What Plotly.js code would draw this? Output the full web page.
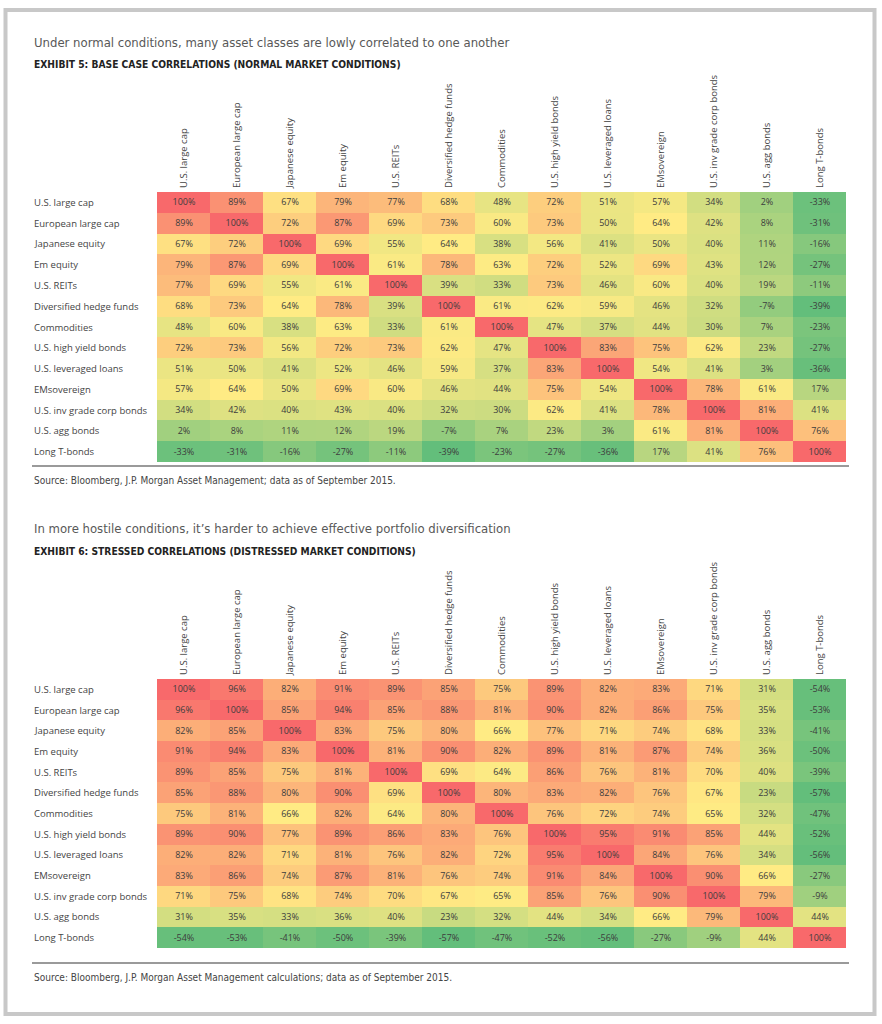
<!DOCTYPE html>
<html>
<head>
<meta charset="utf-8">
<script src="https://cdn.plot.ly/plotly-3.0.1.min.js"></script>
<style>
html,body{margin:0;padding:0;background:#fff;}
#chart{width:882px;height:1024px;}
</style>
</head>
<body>
<div id="chart"></div>
<script>
// ---------- DATA ----------
const assetLabels = ["U.S. large cap","European large cap","Japanese equity","Em equity","U.S. REITs","Diversified hedge funds","Commodities","U.S. high yield bonds","U.S. leveraged loans","EMsovereign","U.S. inv grade corp bonds","U.S. agg bonds","Long T-bonds"];

const normalCorr = [
  [100,89,67,79,77,68,48,72,51,57,34,2,-33],
  [89,100,72,87,69,73,60,73,50,64,42,8,-31],
  [67,72,100,69,55,64,38,56,41,50,40,11,-16],
  [79,87,69,100,61,78,63,72,52,69,43,12,-27],
  [77,69,55,61,100,39,33,73,46,60,40,19,-11],
  [68,73,64,78,39,100,61,62,59,46,32,-7,-39],
  [48,60,38,63,33,61,100,47,37,44,30,7,-23],
  [72,73,56,72,73,62,47,100,83,75,62,23,-27],
  [51,50,41,52,46,59,37,83,100,54,41,3,-36],
  [57,64,50,69,60,46,44,75,54,100,78,61,17],
  [34,42,40,43,40,32,30,62,41,78,100,81,41],
  [2,8,11,12,19,-7,7,23,3,61,81,100,76],
  [-33,-31,-16,-27,-11,-39,-23,-27,-36,17,41,76,100]
];

const stressedCorr = [
  [100,96,82,91,89,85,75,89,82,83,71,31,-54],
  [96,100,85,94,85,88,81,90,82,86,75,35,-53],
  [82,85,100,83,75,80,66,77,71,74,68,33,-41],
  [91,94,83,100,81,90,82,89,81,87,74,36,-50],
  [89,85,75,81,100,69,64,86,76,81,70,40,-39],
  [85,88,80,90,69,100,80,83,82,76,67,23,-57],
  [75,81,66,82,64,80,100,76,72,74,65,32,-47],
  [89,90,77,89,86,83,76,100,95,91,85,44,-52],
  [82,82,71,81,76,82,72,95,100,84,76,34,-56],
  [83,86,74,87,81,76,74,91,84,100,90,66,-27],
  [71,75,68,74,70,67,65,85,76,90,100,79,-9],
  [31,35,33,36,40,23,32,44,34,66,79,100,44],
  [-54,-53,-41,-50,-39,-57,-47,-52,-56,-27,-9,44,100]
];

const title1 = "Under normal conditions, many asset classes are lowly correlated to one another";
const exhibit1 = "EXHIBIT 5: BASE CASE CORRELATIONS (NORMAL MARKET CONDITIONS)";
const source1 = "Source: Bloomberg, J.P. Morgan Asset Management; data as of September 2015.";
const title2 = "In more hostile conditions, it\u2019s harder to achieve effective portfolio diversification";
const exhibit2 = "EXHIBIT 6: STRESSED CORRELATIONS (DISTRESSED MARKET CONDITIONS)";
const source2 = "Source: Bloomberg, J.P. Morgan Asset Management calculations; data as of September 2015.";

// ---------- STYLE ----------
const W = 882, H = 1024;
const px = v => v / W;
const py = v => 1 - v / H;
const NARROW = "Liberation Sans Narrow, DejaVu Sans Condensed, Open Sans, sans-serif";
const SANS = "Open Sans, Liberation Sans, sans-serif";
const GREEN = "#63BE7B", YELLOW = "#FFEB84", RED = "#F8696B";

function scaleFor(z, midVal) {
  let mn = Infinity;
  z.forEach(r => r.forEach(v => { if (v < mn) mn = v; }));
  const mx = 100;
  const t = (midVal - mn) / (mx - mn);
  return {zmin: mn, zmax: mx, colorscale: [[0, GREEN], [t, YELLOW], [1, RED]]};
}

function heat(z, xa, ya, midVal) {
  const s = scaleFor(z, midVal);
  return {
    type: 'heatmap', z: z, x: assetLabels, y: assetLabels,
    xaxis: xa, yaxis: ya,
    zmin: s.zmin, zmax: s.zmax, colorscale: s.colorscale,
    showscale: false, xgap: 0, ygap: 0,
    text: z.map(r => r.map(v => String(v) + '%')),
    texttemplate: '%{text}', textfont: {family: SANS, size: 9, color: '#3d3d3d'},
    hoverinfo: 'skip'
  };
}

const data = [
  heat(normalCorr, 'x', 'y', 64),
  heat(stressedCorr, 'x2', 'y2', 66)
];

const xCommon = {
  type: 'category', side: 'top', tickangle: -90,
  showgrid: false, zeroline: false, showline: false, ticks: '',
  ticklabelstandoff: 3,
  tickfont: {family: SANS, size: 9.5, color: '#444'}, fixedrange: true
};
const yCommon = {
  type: 'category', autorange: 'reversed', showticklabels: false,
  showgrid: false, zeroline: false, showline: false, ticks: '', fixedrange: true
};

const annotations = [];
function textAnn(txt, x, y, font) {
  annotations.push({xref: 'paper', yref: 'paper', x: px(x), y: py(y), text: txt,
    showarrow: false, xanchor: 'left', yanchor: 'middle', font: font});
}
textAnn(title1, 32, 42, {family: NARROW, size: 13, color: '#585858'});
textAnn('<b>' + exhibit1 + '</b>', 32, 64, {family: NARROW, size: 10.2, color: '#222'});
textAnn(source1, 32, 480, {family: NARROW, size: 10, color: '#444'});
textAnn(title2, 32, 528, {family: NARROW, size: 13, color: '#585858'});
textAnn('<b>' + exhibit2 + '</b>', 32, 551, {family: NARROW, size: 10.2, color: '#222'});
textAnn(source2, 32, 977, {family: NARROW, size: 10, color: '#444'});

['y', 'y2'].forEach(ya => {
  assetLabels.forEach(lbl => {
    annotations.push({xref: 'paper', yref: ya, x: px(32), y: lbl, text: lbl,
      showarrow: false, xanchor: 'left', yanchor: 'middle',
      font: {family: SANS, size: 9.5, color: '#444'}});
  });
});

const shapes = [
  {type: 'rect', xref: 'paper', yref: 'paper', x0: px(5.5), x1: px(874.5), y0: py(1014), y1: py(10),
    line: {color: '#c8c8c8', width: 4}, fillcolor: 'rgba(0,0,0,0)'},
  {type: 'line', xref: 'paper', yref: 'paper', x0: px(32), x1: px(849), y0: py(466), y1: py(466),
    line: {color: '#9a9a9a', width: 1.8}},
  {type: 'line', xref: 'paper', yref: 'paper', x0: px(32), x1: px(849), y0: py(963), y1: py(963),
    line: {color: '#9a9a9a', width: 1.8}}
];

const layout = {
  width: W, height: H,
  margin: {l: 0, r: 0, t: 0, b: 0},
  paper_bgcolor: '#fff', plot_bgcolor: '#fff',
  showlegend: false,
  xaxis: Object.assign({}, xCommon, {domain: [px(157), px(846)], anchor: 'y'}),
  yaxis: Object.assign({}, yCommon, {domain: [py(462), py(192)], anchor: 'x'}),
  xaxis2: Object.assign({}, xCommon, {domain: [px(157), px(846)], anchor: 'y2'}),
  yaxis2: Object.assign({}, yCommon, {domain: [py(948), py(679)], anchor: 'x2'}),
  annotations: annotations,
  shapes: shapes
};

Plotly.newPlot('chart', data, layout, {displayModeBar: false, staticPlot: true});
</script>
</body>
</html>
